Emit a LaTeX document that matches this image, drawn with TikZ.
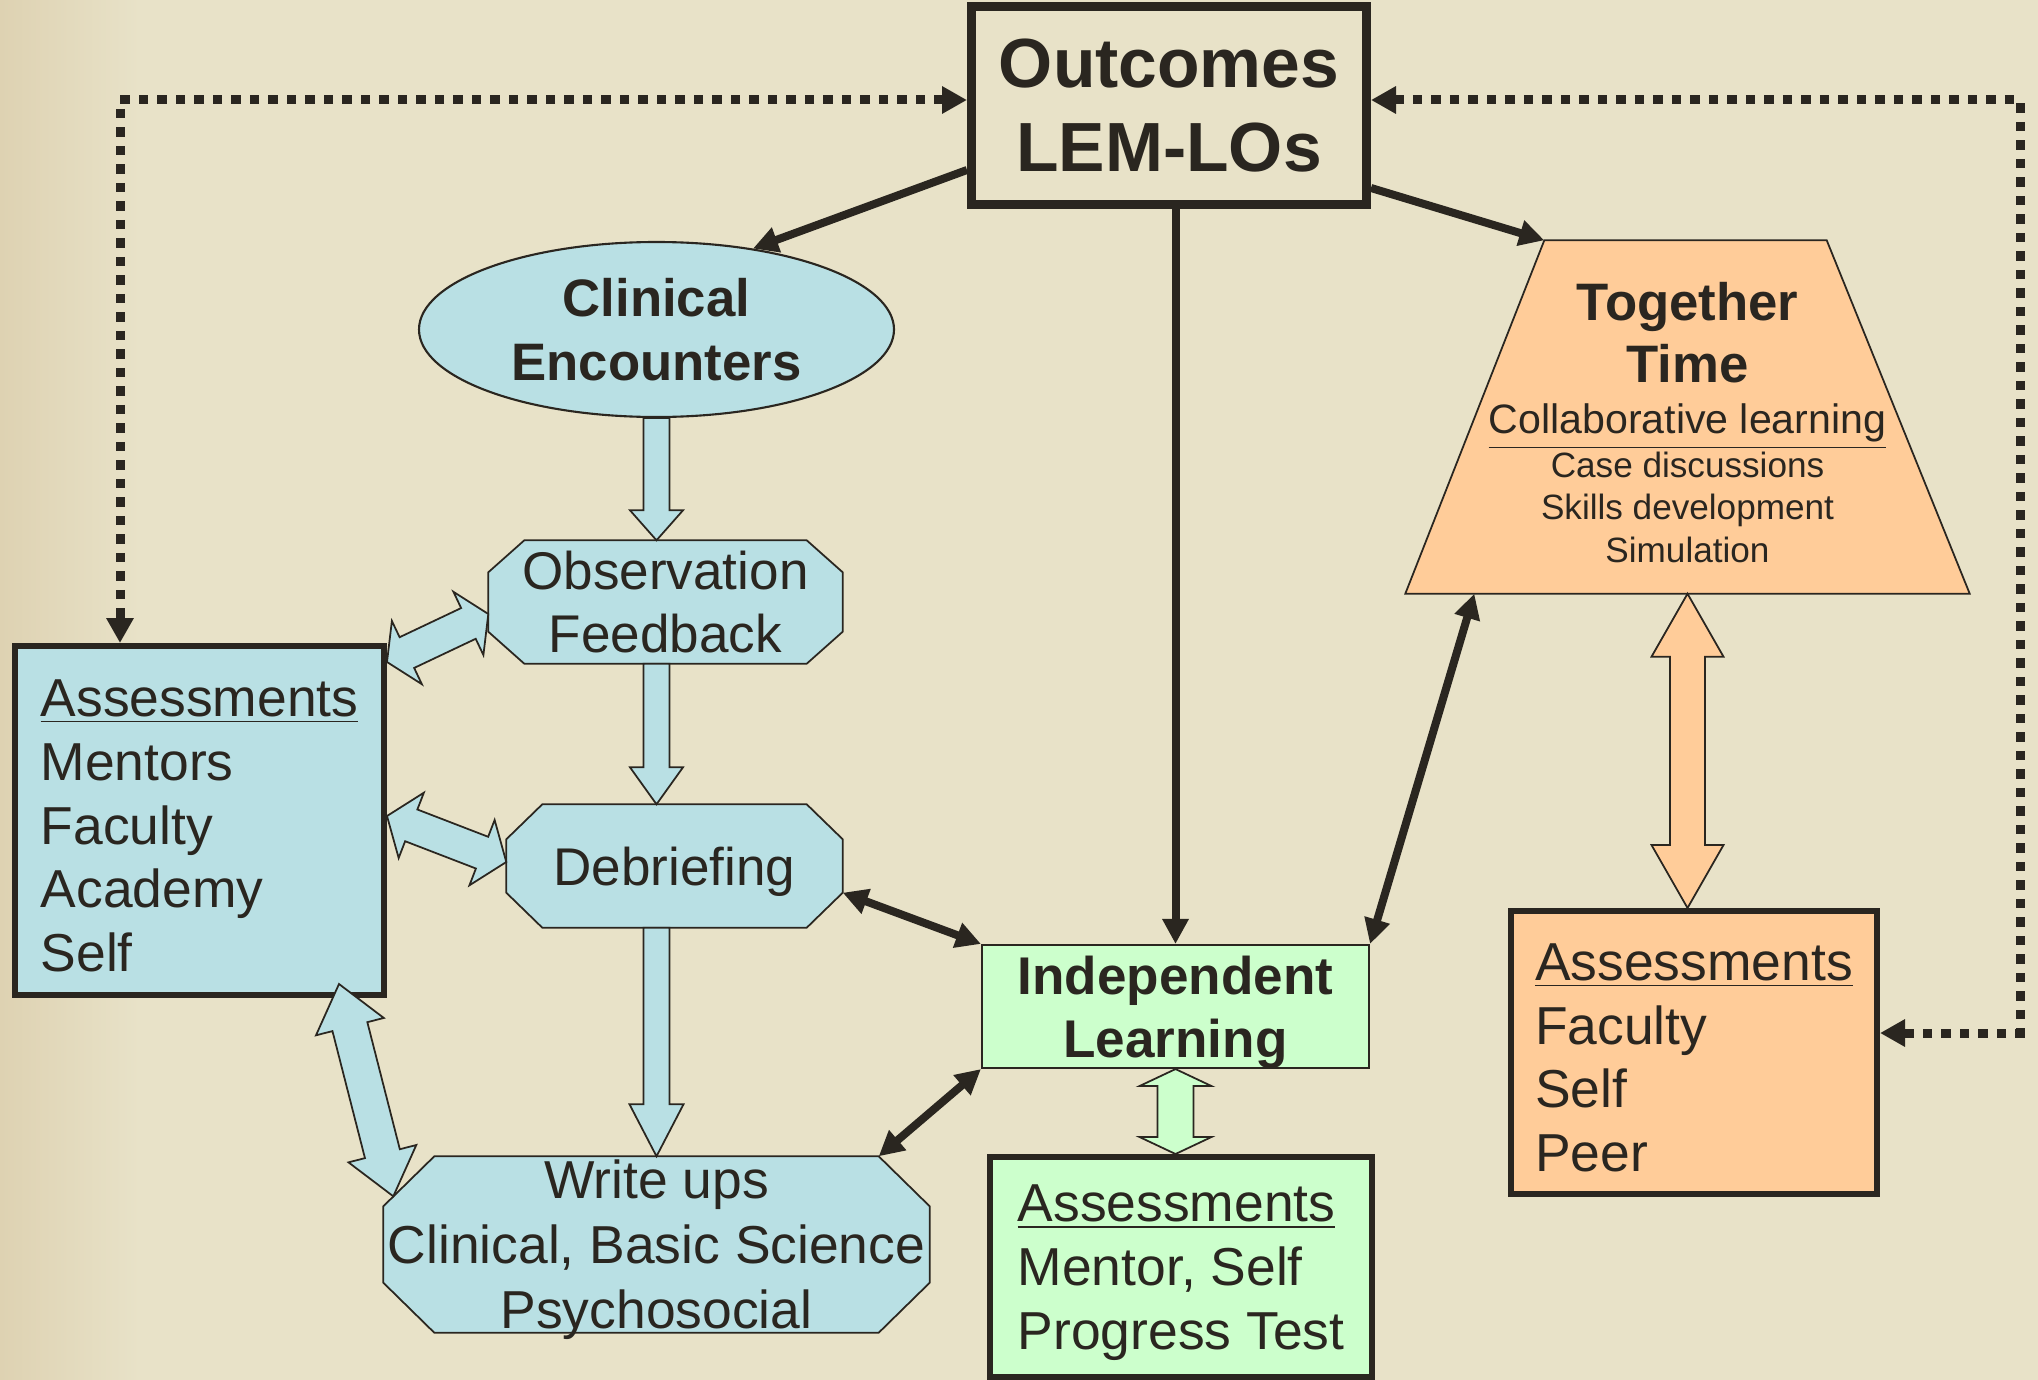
\documentclass[tikz,border=0pt]{standalone}
\usepackage{fontspec}
\setmainfont{Liberation Sans}
\usetikzlibrary{arrows.meta, calc, backgrounds, shapes.geometric}

\definecolor{paper}{RGB}{232,226,200}
\definecolor{paperdark}{RGB}{222,210,178}
\definecolor{ink}{RGB}{42,38,32}
\definecolor{clinblue}{RGB}{185,224,228}
\definecolor{indgreen}{RGB}{204,255,204}
\definecolor{togorange}{RGB}{255,204,153}

\newcommand{\octo}[4]{\filldraw[draw=ink, line width=0.5pt, fill=#2]
  ([xshift=#3]#1.north west) -- ([xshift=-#3]#1.north east) -- ([yshift=-#4]#1.north east) -- ([yshift=#4]#1.south east)
  -- ([xshift=-#3]#1.south east) -- ([xshift=#3]#1.south west) -- ([yshift=#4]#1.south west) -- ([yshift=-#4]#1.north west) -- cycle;}

\newcommand{\blkarrow}[6]{\filldraw[draw=ink, line width=0.5pt, fill=#3]
  ($(#1)!#4!90:(#2)$) -- ($(#2)!#6!(#1)!#4!-90:(#1)$) -- ($(#2)!#6!(#1)!#5!-90:(#1)$) -- (#2)
  -- ($(#2)!#6!(#1)!#5!90:(#1)$) -- ($(#2)!#6!(#1)!#4!90:(#1)$) -- ($(#1)!#4!-90:(#2)$) -- cycle;}

\newcommand{\dblarrow}[6]{\filldraw[draw=ink, line width=0.5pt, fill=#3]
  (#1) -- ($(#1)!#6!(#2)!#5!90:(#2)$) -- ($(#1)!#6!(#2)!#4!90:(#2)$) -- ($(#2)!#6!(#1)!#4!-90:(#1)$) -- ($(#2)!#6!(#1)!#5!-90:(#1)$) -- (#2)
  -- ($(#2)!#6!(#1)!#5!90:(#1)$) -- ($(#2)!#6!(#1)!#4!90:(#1)$) -- ($(#1)!#6!(#2)!#4!-90:(#2)$) -- ($(#1)!#6!(#2)!#5!-90:(#2)$) -- cycle;}

\begin{document}
\begin{tikzpicture}[every node/.style={text=ink},
    goal/.style={draw=ink, line width=0.09cm, minimum width=3.95cm, minimum height=1.98cm, align=center, font=\fontsize{19.8}{24}\selectfont\bfseries},
    hub/.style={ellipse, draw=ink, line width=0.6pt, fill=clinblue, minimum width=4.75cm, minimum height=1.75cm, inner sep=0pt, align=center, font=\fontsize{15}{18.2}\selectfont\bfseries},
    stage/.style={inner sep=0pt, align=center, text depth=0pt, font=\fontsize{15.1}{17.9}\selectfont},
    assess/.style={draw=ink, line width=0.06cm, inner sep=0pt, align=left, text depth=0pt, font=\fontsize{15.2}{18.2}\selectfont},
    indep/.style={draw=ink, line width=0.6pt, fill=indgreen, minimum width=3.87cm, minimum height=1.23cm, inner sep=0pt, align=center, text depth=0pt, font=\fontsize{15.1}{17.9}\selectfont\bfseries},
    link/.style={-{Triangle[length=0.25cm, width=0.25cm]}, draw=ink, line width=0.08cm},
    dlink/.style={{Triangle[length=0.25cm, width=0.25cm]}-{Triangle[length=0.25cm, width=0.25cm]}, draw=ink, line width=0.08cm},
    dots/.style={{Triangle[length=0.25cm, width=0.26cm]}-{Triangle[length=0.25cm, width=0.26cm]}, draw=ink, line width=0.09cm, dash pattern=on 0.095cm off 0.09cm}]

    \useasboundingbox (0,0) rectangle (20.38,-13.80);

    \node[goal] (out) at (11.69,-1.055) {Outcomes\\LEM-LOs};
    \node[hub] (clin) at (6.565,-3.295) {Clinical\\Encounters};
    \node[stage, minimum width=3.53cm, minimum height=1.22cm] (obs) at (6.655,-6.02) {Observation\\Feedback};
    \node[stage, minimum width=3.35cm, minimum height=1.22cm] (deb) at (6.745,-8.66) {Debriefing};
    \node[stage, minimum width=5.45cm, minimum height=1.75cm, font=\fontsize{15.2}{18.5}\selectfont] (wri) at (6.565,-12.445) {Write ups\\Clinical, Basic Science\\Psychosocial};
    \node[assess, fill=clinblue, minimum width=3.69cm, minimum height=3.49cm] (la) at (1.995,-8.205) {\rule{0pt}{0.47cm}\underline{Assessments}\\Mentors\\Faculty\\Academy\\Self};
    \node[indep] (il) at (11.755,-10.065) {Independent\\Learning};
    \node[assess, fill=indgreen, minimum width=3.82cm, minimum height=2.20cm] (ga) at (11.81,-12.67) {\underline{Assessments}\\Mentor, Self\\Progress Test};
    \node[stage, minimum width=5.63cm, minimum height=3.52cm, font={\fontsize{10}{12}\selectfont\lineskiplimit=-5cm}] (tog) at (16.875,-4.17)
        {\rule{0pt}{0.49cm}{\fontsize{15}{18}\selectfont\bfseries Together}\\[5.9pt]{\fontsize{15}{18}\selectfont\bfseries Time}\\[2.5pt]{\fontsize{11.7}{14}\selectfont\underline{Collaborative learning}}\\[0.5pt]Case discussions\\[-0.3pt]Skills development\\[0.5pt]Simulation};
    \node[assess, fill=togorange, minimum width=3.66cm, minimum height=2.83cm] (ra) at (16.94,-10.525) {\rule{0pt}{0.47cm}\underline{Assessments}\\Faculty\\Self\\Peer};

    \begin{scope}[on background layer]
        \fill[paper] (0,0) rectangle (20.38,-13.80);
        \shade[left color=paperdark, right color=paper] (0,0) rectangle (1.4,-13.80);
        \octo{obs}{clinblue}{0.36cm}{0.32cm}
        \octo{deb}{clinblue}{0.36cm}{0.35cm}
        \octo{wri}{clinblue}{0.51cm}{0.50cm}
        \filldraw[draw=ink, line width=0.5pt, fill=togorange] (tog.south west) -- (tog.south east) -- ([xshift=-1.43cm]tog.north east) -- ([xshift=1.39cm]tog.north west) -- cycle;
    \end{scope}

    \coordinate (o1) at (clin.south |- obs.north);
    \coordinate (o2) at (clin.south |- obs.south);
    \coordinate (d1) at (clin.south |- deb.north);
    \coordinate (d2) at (clin.south |- deb.south);
    \coordinate (w1) at (clin.south |- wri.north);
    \coordinate (a1) at ([yshift=-0.19cm]la.north east);
    \coordinate (a2) at ([yshift=-0.12cm]obs.west);
    \coordinate (b1) at ([yshift=0.045cm]la.east);
    \coordinate (b2) at ([yshift=0.04cm]deb.west);
    \coordinate (e1) at ([xshift=-0.48cm, yshift=0.14cm]la.south east);
    \coordinate (e2) at ([xshift=0.1cm, yshift=-0.4cm]wri.north west);
    \coordinate (g2) at (il.south |- ga.north);
    \coordinate (r2) at (tog.south |- ra.north);

    \blkarrow{clin.south}{o1}{clinblue}{0.13cm}{0.265cm}{0.30cm}
    \blkarrow{o2}{d1}{clinblue}{0.13cm}{0.265cm}{0.37cm}
    \blkarrow{d2}{w1}{clinblue}{0.13cm}{0.27cm}{0.52cm}
    \dblarrow{a1}{a2}{clinblue}{0.17cm}{0.35cm}{0.22cm}
    \dblarrow{b1}{b2}{clinblue}{0.17cm}{0.35cm}{0.26cm}
    \dblarrow{e1}{e2}{clinblue}{0.18cm}{0.35cm}{0.44cm}
    \dblarrow{il.south}{g2}{indgreen}{0.18cm}{0.36cm}{0.17cm}
    \dblarrow{tog.south}{r2}{togorange}{0.175cm}{0.36cm}{0.63cm}

    \draw[link] ([yshift=-0.645cm]out.west) -- (clin.40);
    \draw[link] ([yshift=-0.825cm]out.east) -- ([xshift=1.39cm]tog.north west);
    \draw[link] (out.south -| il.north) -- (il.north);
    \draw[dlink] ([yshift=0.35cm]deb.south east) -- (il.north west);
    \draw[dlink] ([xshift=-0.51cm]wri.north east) -- (il.south west);
    \draw[dlink] (il.north east) -- ([xshift=0.69cm]tog.south west);

    \draw[dots] ([yshift=0.055cm]out.west) -| ([xshift=1.08cm]la.north west);
    \draw[dots] ([yshift=0.055cm]out.east) -| ([xshift=1.4cm, yshift=0.195cm]ra.east) -- ([yshift=0.195cm]ra.east);
\end{tikzpicture}
\end{document}
